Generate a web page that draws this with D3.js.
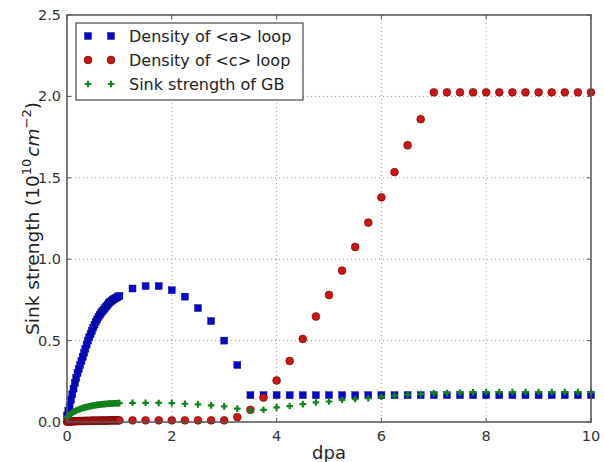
<!DOCTYPE html>
<html>
<head>
<meta charset="utf-8">
<script src="https://cdn.jsdelivr.net/npm/d3@7/dist/d3.min.js"></script>
<style>
    body { margin: 0; background: #fff; }
    text { font-family: "DejaVu Sans", sans-serif; }
</style>
</head>
<body>
<div class="sink-chart"></div>
<script>
// dpa values: fine sampling up to 1 dpa, then every 0.25 dpa
const dpaFine = [0, 0.025, 0.05, 0.075, 0.1, 0.125, 0.15, 0.175, 0.2, 0.225, 0.25, 0.275, 0.3, 0.325, 0.35, 0.375,
    0.4, 0.425, 0.45, 0.475, 0.5, 0.525, 0.55, 0.575, 0.6, 0.625, 0.65, 0.675, 0.7, 0.725, 0.75, 0.775,
    0.8, 0.825, 0.85, 0.875, 0.9, 0.925, 0.95, 0.975, 1.0];
const dpaCoarse = [1.25, 1.5, 1.75, 2, 2.25, 2.5, 2.75, 3, 3.25, 3.5, 3.75, 4, 4.25, 4.5, 4.75, 5, 5.25, 5.5,
    5.75, 6, 6.25, 6.5, 6.75, 7, 7.25, 7.5, 7.75, 8, 8.25, 8.5, 8.75, 9, 9.25, 9.5, 9.75, 10];

// density of <a> loop
const aLoopFine = [0.04, 0.07, 0.10, 0.135, 0.17, 0.205, 0.24, 0.27, 0.30, 0.325, 0.35, 0.375, 0.40, 0.425, 0.45,
    0.475, 0.50, 0.52, 0.54, 0.56, 0.58, 0.598, 0.615, 0.63, 0.645, 0.658, 0.67, 0.68, 0.69, 0.70, 0.71,
    0.72, 0.73, 0.738, 0.745, 0.75, 0.755, 0.76, 0.765, 0.77, 0.775];
const aLoopCoarse = [0.82, 0.835, 0.835, 0.81, 0.77, 0.70, 0.62, 0.50, 0.35, 0.165, 0.165, 0.165, 0.165, 0.165,
    0.165, 0.165, 0.165, 0.165, 0.165, 0.165, 0.165, 0.165, 0.165, 0.165, 0.165, 0.165, 0.165, 0.165,
    0.165, 0.165, 0.165, 0.165, 0.165, 0.165, 0.165, 0.165];

// density of <c> loop
const cLoopFine = [0.002, 0.002, 0.003, 0.003, 0.004, 0.004, 0.005, 0.005, 0.005, 0.006, 0.006, 0.006, 0.006,
    0.007, 0.007, 0.007, 0.007, 0.007, 0.008, 0.008, 0.008, 0.008, 0.008, 0.008, 0.009, 0.009, 0.009,
    0.009, 0.009, 0.009, 0.009, 0.009, 0.01, 0.01, 0.01, 0.01, 0.01, 0.01, 0.01, 0.01, 0.01];
const cLoopCoarse = [0.01, 0.01, 0.01, 0.01, 0.01, 0.01, 0.01, 0.01, 0.03, 0.075, 0.15, 0.255, 0.375, 0.51,
    0.648, 0.78, 0.93, 1.075, 1.225, 1.38, 1.535, 1.70, 1.86, 2.025, 2.025, 2.025, 2.025, 2.025, 2.025,
    2.025, 2.025, 2.025, 2.025, 2.025, 2.025, 2.025];

// sink strength of grain boundaries
const gbFine = [0.03, 0.037, 0.044, 0.05, 0.056, 0.061, 0.066, 0.07, 0.074, 0.077, 0.08, 0.083, 0.086, 0.088,
    0.09, 0.092, 0.094, 0.096, 0.098, 0.099, 0.101, 0.102, 0.104, 0.105, 0.106, 0.107, 0.108, 0.109, 0.11,
    0.111, 0.111, 0.112, 0.113, 0.113, 0.114, 0.114, 0.115, 0.115, 0.115, 0.116, 0.116];
const gbCoarse = [0.118, 0.118, 0.117, 0.116, 0.112, 0.108, 0.102, 0.096, 0.082, 0.07, 0.075, 0.09, 0.098,
    0.11, 0.12, 0.126, 0.135, 0.141, 0.146, 0.155, 0.162, 0.168, 0.172, 0.176, 0.178, 0.18, 0.182,
    0.184, 0.184, 0.184, 0.184, 0.184, 0.184, 0.184, 0.184, 0.184];

const xTicks = [0, 2, 4, 6, 8, 10];
const yTicks = [0.0, 0.5, 1.0, 1.5, 2.0, 2.5];
const legendLabels = ["Density of <a> loop", "Density of <c> loop", "Sink strength of GB"];

const width = 604;
const height = 462;
const margin = {top: 15, right: 13, bottom: 40, left: 67};
const plotW = width - margin.left - margin.right;
const plotH = height - margin.top - margin.bottom;

const svg = d3.select(".sink-chart")
    .append("svg")
    .attr("width", width)
    .attr("height", height);

const xScale = d3.scaleLinear().domain([0, 10]).range([margin.left, margin.left + plotW]);
const yScale = d3.scaleLinear().domain([0, 2.5]).range([margin.top + plotH, margin.top]);

// dotted grid
svg.append("g")
    .selectAll("line")
    .data(xTicks)
    .enter()
    .append("line")
    .attr("x1", d => xScale(d)).attr("x2", d => xScale(d))
    .attr("y1", margin.top).attr("y2", margin.top + plotH)
    .attr("stroke", "#9a9a9a").attr("stroke-width", 1).attr("stroke-dasharray", "1,3");
svg.append("g")
    .selectAll("line")
    .data(yTicks)
    .enter()
    .append("line")
    .attr("x1", margin.left).attr("x2", margin.left + plotW)
    .attr("y1", d => yScale(d)).attr("y2", d => yScale(d))
    .attr("stroke", "#9a9a9a").attr("stroke-width", 1).attr("stroke-dasharray", "1,3");

// zip helper
const pairs = (xs, ys) => xs.map((x, i) => ({x: x, y: ys[i]}));
const aData = pairs(dpaFine, aLoopFine).concat(pairs(dpaCoarse, aLoopCoarse));
const cData = pairs(dpaFine, cLoopFine).concat(pairs(dpaCoarse, cLoopCoarse));
const gbData = pairs(dpaFine, gbFine).concat(pairs(dpaCoarse, gbCoarse));

const plotArea = svg.append("g");

const sq = 7;
plotArea.selectAll(".aloop")
    .data(aData)
    .enter()
    .append("rect")
    .attr("class", "aloop")
    .attr("x", d => xScale(d.x) - sq / 2)
    .attr("y", d => yScale(d.y) - sq / 2)
    .attr("width", sq).attr("height", sq)
    .attr("fill", "#0508cc").attr("stroke", "#05085a").attr("stroke-width", 0.4);

plotArea.selectAll(".cloop")
    .data(cData)
    .enter()
    .append("circle")
    .attr("class", "cloop")
    .attr("cx", d => xScale(d.x))
    .attr("cy", d => yScale(d.y))
    .attr("r", 3.9)
    .attr("fill", "#d01414").attr("stroke", "#5a0606").attr("stroke-width", 0.6);

const plusPath = (cx, cy, s) => `M${cx - s},${cy}H${cx + s}M${cx},${cy - s}V${cy + s}`;
plotArea.selectAll(".gb")
    .data(gbData)
    .enter()
    .append("path")
    .attr("class", "gb")
    .attr("d", d => plusPath(xScale(d.x), yScale(d.y), 3.3))
    .attr("stroke", "#12821a").attr("stroke-width", 2.2).attr("fill", "none");

// frame
svg.append("rect")
    .attr("x", margin.left).attr("y", margin.top)
    .attr("width", plotW).attr("height", plotH)
    .attr("fill", "none").attr("stroke", "#555").attr("stroke-width", 1.5);

// inward ticks on all sides
const tickG = svg.append("g").attr("stroke", "#555").attr("stroke-width", 1);
xTicks.forEach(t => {
    tickG.append("line").attr("x1", xScale(t)).attr("x2", xScale(t))
        .attr("y1", margin.top + plotH).attr("y2", margin.top + plotH - 4);
    tickG.append("line").attr("x1", xScale(t)).attr("x2", xScale(t))
        .attr("y1", margin.top).attr("y2", margin.top + 4);
});
yTicks.forEach(t => {
    tickG.append("line").attr("x1", margin.left).attr("x2", margin.left + 4)
        .attr("y1", yScale(t)).attr("y2", yScale(t));
    tickG.append("line").attr("x1", margin.left + plotW).attr("x2", margin.left + plotW - 4)
        .attr("y1", yScale(t)).attr("y2", yScale(t));
});

// tick labels
svg.append("g")
    .selectAll("text")
    .data(xTicks)
    .enter()
    .append("text")
    .attr("x", d => xScale(d))
    .attr("y", margin.top + plotH + 19)
    .attr("text-anchor", "middle")
    .attr("font-size", 14.5)
    .attr("fill", "#333")
    .text(d => d);
svg.append("g")
    .selectAll("text")
    .data(yTicks)
    .enter()
    .append("text")
    .attr("x", margin.left - 6)
    .attr("y", d => yScale(d) + 5)
    .attr("text-anchor", "end")
    .attr("font-size", 14.5)
    .attr("fill", "#333")
    .text(d => d3.format(".1f")(d));

// axis labels
svg.append("text")
    .attr("x", margin.left + plotW / 2)
    .attr("y", margin.top + plotH + 37)
    .attr("text-anchor", "middle")
    .attr("font-size", 18)
    .attr("fill", "#222")
    .text("dpa");

const yLabel = svg.append("text")
    .attr("transform", `translate(39,${margin.top + plotH / 2}) rotate(-90)`)
    .attr("text-anchor", "middle")
    .attr("font-size", 18.5)
    .attr("fill", "#222");
yLabel.append("tspan").text("Sink strength (10");
yLabel.append("tspan").attr("font-size", 13).attr("dy", -8).text("10");
yLabel.append("tspan").attr("dy", 8).attr("dx", 2).attr("font-style", "italic").text("cm");
yLabel.append("tspan").attr("font-size", 13).attr("dy", -8).text("\u22122");
yLabel.append("tspan").attr("dy", 8).text(")");

// legend
const legend = svg.append("g");
legend.append("rect")
    .attr("x", 76).attr("y", 23).attr("width", 227).attr("height", 77)
    .attr("fill", "#fff").attr("stroke", "#222").attr("stroke-width", 1);

const rowY = [36, 60, 84];
[88, 111].forEach(mx => {
    legend.append("rect")
        .attr("x", mx - sq / 2).attr("y", rowY[0] - sq / 2)
        .attr("width", sq).attr("height", sq)
        .attr("fill", "#0508cc").attr("stroke", "#05085a").attr("stroke-width", 0.4);
    legend.append("circle")
        .attr("cx", mx).attr("cy", rowY[1]).attr("r", 3.9)
        .attr("fill", "#d01414").attr("stroke", "#5a0606").attr("stroke-width", 0.6);
    legend.append("path")
        .attr("d", plusPath(mx, rowY[2], 3.3))
        .attr("stroke", "#12821a").attr("stroke-width", 2.2);
});
legendLabels.forEach((lab, i) => {
    legend.append("text")
        .attr("x", 129).attr("y", rowY[i] + 6)
        .attr("font-size", 16)
        .attr("fill", "#222")
        .text(lab);
});
</script>
</body>
</html>
